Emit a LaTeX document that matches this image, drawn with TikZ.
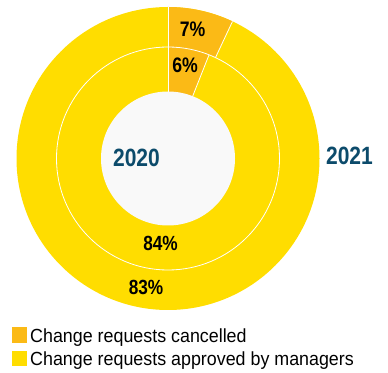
\documentclass[tikz,border=0pt]{standalone}
\usepackage{fontspec}
\setmainfont{Liberation Sans}
\newfontfamily\numfont[FakeStretch=0.84]{Liberation Sans}
\newfontfamily\legfont[FakeStretch=0.94]{Liberation Sans}
\definecolor{orangec}{RGB}{251,186,22}
\definecolor{yellowc}{RGB}{255,221,0}
\definecolor{holec}{RGB}{249,249,249}
\definecolor{teal}{RGB}{12,75,107}
\tikzset{
  pct/.style={anchor=base, inner sep=0pt, font=\numfont\bfseries\fontsize{21}{21}\selectfont},
  pctlow/.style={anchor=base, inner sep=0pt, font=\numfont\bfseries\fontsize{20.5}{20.5}\selectfont},
  year/.style={anchor=base, inner sep=0pt, text=teal, font=\numfont\bfseries\fontsize{25}{25}\selectfont},
  legtext/.style={anchor=base west, inner sep=0pt, font=\legfont\fontsize{19}{19}\selectfont},
  sep/.style={draw=white, line width=0.8pt}
}
\begin{document}
\begin{tikzpicture}[x=1pt,y=1pt]
\useasboundingbox (0,0) rectangle (388,372);
\fill[white] (0,0) rectangle (388,372);
\coordinate (c) at (168,213.5);
% outer ring (2021)
\fill[yellowc] (c) circle (151.5);
\fill[orangec] (c) -- ++(90:151.5) arc (90:64.8:151.5) -- cycle;
% inner ring (2020)
\fill[yellowc] (c) circle (111.5);
\fill[orangec] (c) -- ++(90:111.5) arc (90:68.4:111.5) -- cycle;
% separators
\draw[sep] (c) circle (111.5);
\draw[sep] (c) -- ++(90:151.5);
\draw[sep] (c) ++(64.8:111.5) -- ++(64.8:40);
\draw[sep] (c) ++(68.4:67) -- ++(68.4:44.5);
% hole
\fill[holec] (c) circle (67);
% labels
\node[pct] (p7) at (192.5,335.3) {7\%};
\node[pct] (p6) at (185,299) {6\%};
\node[year] (y20) at (136.5,205) {2020};
\node[year] (y21) at (349.5,207) {2021};
\node[pctlow] (p84) at (160.5,121) {84\%};
\node[pctlow] (p83) at (146,77) {83\%};
% legend
\fill[orangec] (12,29) rectangle (27,45);
\fill[yellowc] (12,6) rectangle (27,21);
\node[legtext] (l1) at (30,29.3) {Change requests cancelled};
\node[legtext] (l2) at (30,6) {Change requests approved by managers};
\end{tikzpicture}
\end{document}
